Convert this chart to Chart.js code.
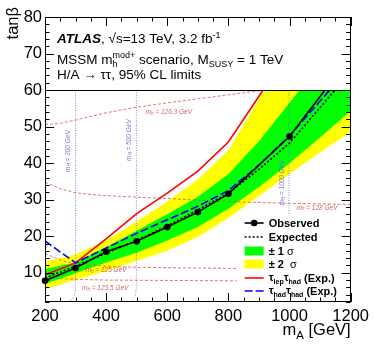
<!DOCTYPE html>
<html><head><meta charset="utf-8">
<script src="https://cdn.jsdelivr.net/npm/chart.js@4/dist/chart.umd.min.js"></script>
<style>html,body{margin:0;padding:0;background:#fff;}#wrap{width:374px;height:363px;position:relative;}</style>
</head><body><div id="wrap"><canvas id="c"></canvas></div>
<script>
// ---- data ----
const mA        = [200, 300, 400, 500, 600, 700, 800, 900, 1000, 1100, 1200];
const yellowUp  = [13.0, 15.0, 18.8, 24.0, 29.5, 35.5, 43.5, 57.5, 70.0, 82.0, 94.0];
const greenUp   = [11.0, 12.8, 17.0, 21.5, 26.0, 30.8, 37.0, 46.0, 56.5, 67.0, 78.0];
const greenLow  = [6.9, 9.9, 12.8, 15.5, 18.8, 22.5, 27.5, 33.5, 40.0, 47.0, 54.3];
const yellowLow = [5.5, 8.1, 10.5, 13.3, 16.0, 19.8, 25.0, 31.0, 37.0, 43.0, 48.5];
const expected  = [8.6, 11.8, 15.4, 18.8, 22.8, 27.2, 31.8, 38.3, 45.5, 55.2, 65.0];
const lepHad    = [9.4, 12.7, 19.3, 26.2, 31.8, 37.8, 45.8, 58.3, 71.0, 84.0, 97.0];
const hadHad    = [18.7, 12.7, 16.8, 20.8, 24.5, 28.2, 32.5, 39.5, 47.5, 57.0, 66.5];
const obsMA     = [200, 300, 400, 500, 600, 700, 800, 1000, 1200];
const observed  = [7.8, 11.3, 15.75, 18.6, 22.5, 26.6, 31.6, 47.3, 69.2];
const obsMarker = [true, true, true, true, true, true, true, true, false];

// light-Higgs mass contours (m_h)
const mh1263X = [200, 250, 300, 400, 500, 600, 700, 800, 900, 1000];
const mh1263Y = [50.5, 50.9, 51.8, 53.8, 55.3, 56.5, 57.6, 58.7, 59.8, 60.8];
const mh128X  = [200, 250, 300, 350, 400, 500, 600, 800, 1000, 1200];
const mh128Y  = [34.8, 33.0, 31.9, 31.4, 31.1, 30.7, 30.3, 29.5, 29.0, 28.7];
const mh125X  = [200, 250, 300, 400, 500, 600, 800, 1000, 1200];
const mh125Y  = [15.3, 13.5, 12.4, 11.8, 11.5, 11.4, 11.2, 11.1, 11.0];
const mh1235X = [200, 250, 300, 400, 600, 800, 1000, 1200];
const mh1235Y = [8.8, 8.4, 8.2, 8.0, 7.9, 7.8, 7.8, 7.8];
// heavy-Higgs mass contours (m_H)
const mH300X  = [300, 300, 299, 296, 288, 275];
const mH300Y  = [60, 10, 5.0, 3.6, 2.6, 2.0];
const mH500X  = [499, 499, 497, 492, 485, 478];
const mH500Y  = [60, 6.0, 4.5, 3.2, 2.4, 2.0];
const mH1000X = [998, 998];
const mH1000Y = [60, 2];

const xTickLabels = [200, 400, 600, 800, 1000, 1200];
const yTickLabels = [10, 20, 30, 40, 50, 60, 70, 80];

const pts = (xs, ys) => xs.map((v, i) => ({x: v, y: ys[i]}));

const FONT = '"Liberation Sans", Arial, Helvetica, sans-serif';
const RED_C = 'rgba(220,90,90,0.85)';
const BLUE_C = 'rgba(110,110,230,0.85)';

function rich(ctx, x, y, parts) {
  for (const [t, f, dy] of parts) {
    ctx.font = f;
    ctx.fillText(t, x, y + (dy || 0));
    x += ctx.measureText(t).width;
  }
  return x;
}

const deco = {
  id: 'deco',
  afterDatasetsDraw(chart) {
    const {ctx, chartArea: a, scales: {x, y}} = chart;
    ctx.save();
    // contour labels
    ctx.fillStyle = 'rgba(210,80,80,0.9)';
    ctx.textBaseline = 'middle';
    const mhLab = [['126.3', 605, 54.0], ['128', 1090, 27.8], ['125', 400, 10.8], ['123.5', 397, 5.9]];
    for (const [v, mx, ty] of mhLab) {
      const parts = [['m', 'italic 6.5px ' + FONT, 0], ['h', 'italic 4.5px ' + FONT, 1.5], [' = ' + v + ' GeV', 'italic 6.5px ' + FONT, 0]];
      let w = 0; for (const p of parts) { ctx.font = p[1]; w += ctx.measureText(p[0]).width; }
      rich(ctx, x.getPixelForValue(mx) - w / 2, y.getPixelForValue(ty), parts);
    }
    ctx.fillStyle = 'rgba(100,100,220,0.9)';
    const mHLab = [['300', 275, 43.3], ['500', 477, 46.3], ['1000', 977, 34.6]];
    for (const [v, mx, ty] of mHLab) {
      const parts = [['m', 'italic 6.5px ' + FONT, 0], ['H', 'italic 4.5px ' + FONT, 1.5], [' = ' + v + ' GeV', 'italic 6.5px ' + FONT, 0]];
      let w = 0; for (const p of parts) { ctx.font = p[1]; w += ctx.measureText(p[0]).width; }
      ctx.save();
      ctx.translate(x.getPixelForValue(mx), y.getPixelForValue(ty));
      ctx.rotate(-Math.PI / 2);
      rich(ctx, -w / 2, 0, parts);
      ctx.restore();
    }
    // white header box above tan(beta)=60
    const y60 = y.getPixelForValue(60);
    ctx.fillStyle = '#fff';
    ctx.fillRect(a.left, 0, a.right - a.left + 8, y60);
    ctx.strokeStyle = '#000';
    ctx.lineWidth = 1;
    ctx.beginPath(); ctx.moveTo(a.left, Math.round(y60) + 0.5); ctx.lineTo(a.right, Math.round(y60) + 0.5); ctx.stroke();

    // legend
    const lx = a.right - 114, ly = a.bottom - 88;
    ctx.fillStyle = '#fff';
    ctx.fillRect(lx, ly, a.right - lx - 1, a.bottom - ly - 1);
    const rows = [a.bottom - 79, a.bottom - 65, a.bottom - 51, a.bottom - 38, a.bottom - 24, a.bottom - 11];
    const sx0 = lx + 8, sx1 = lx + 27, tx = lx + 32;
    ctx.lineWidth = 1.6;
    ctx.strokeStyle = '#000';
    ctx.beginPath(); ctx.moveTo(sx0, rows[0]); ctx.lineTo(sx1, rows[0]); ctx.stroke();
    ctx.fillStyle = '#000';
    ctx.beginPath(); ctx.arc((sx0 + sx1) / 2, rows[0], 3.3, 0, Math.PI * 2); ctx.fill();
    ctx.setLineDash([2, 2]);
    ctx.beginPath(); ctx.moveTo(sx0, rows[1]); ctx.lineTo(sx1, rows[1]); ctx.stroke();
    ctx.setLineDash([]);
    ctx.fillStyle = '#00ff00'; ctx.fillRect(sx0, rows[2] - 4.5, sx1 - sx0, 9);
    ctx.fillStyle = '#ffff00'; ctx.fillRect(sx0, rows[3] - 4.5, sx1 - sx0, 9);
    ctx.strokeStyle = '#ff0000';
    ctx.beginPath(); ctx.moveTo(sx0, rows[4]); ctx.lineTo(sx1, rows[4]); ctx.stroke();
    ctx.strokeStyle = '#0000ff'; ctx.setLineDash([8, 3]);
    ctx.beginPath(); ctx.moveTo(sx0, rows[5]); ctx.lineTo(sx1, rows[5]); ctx.stroke();
    ctx.setLineDash([]);
    ctx.fillStyle = '#000';
    ctx.textBaseline = 'alphabetic';
    const B = 'bold 11px ' + FONT, BS = 'bold 7px ' + FONT, N = '11px ' + FONT;
    const off = 4;
    rich(ctx, tx, rows[0] + off, [['Observed', B, 0]]);
    rich(ctx, tx, rows[1] + off, [['Expected', B, 0]]);
    rich(ctx, tx, rows[2] + off, [['± 1 ', B, 0], ['σ', N, 0]]);
    rich(ctx, tx, rows[3] + off, [['± 2  ', B, 0], ['σ', N, 0]]);
    rich(ctx, tx, rows[4] + off, [['τ', B, -1], ['lep', BS, 1.5], ['τ', B, -1], ['had', BS, 1.5], [' (Exp.)', B, 0]]);
    rich(ctx, tx, rows[5] + off, [['τ', B, -1], ['had', BS, 1.5], ['τ', B, -1], ['had', BS, 1.5], [' (Exp.)', B, 0]]);

    // frame + inward ticks (ROOT style)
    ctx.strokeStyle = '#000';
    ctx.lineWidth = 1;
    ctx.strokeRect(Math.round(a.left) + 0.5, Math.round(a.top) + 0.5, Math.round(a.right - a.left) - 1, Math.round(a.bottom - a.top) - 1);
    ctx.beginPath();
    for (let v = 200; v <= 1200; v += 50) {
      const px = Math.round(x.getPixelForValue(v)) + 0.5;
      const L = (v % 200 === 0) ? 9 : 4.5;
      ctx.moveTo(px, a.bottom); ctx.lineTo(px, a.bottom - L);
      ctx.moveTo(px, a.top); ctx.lineTo(px, a.top + L);
    }
    for (let v = 2; v <= 80; v += 2) {
      const py = Math.round(y.getPixelForValue(v)) + 0.5;
      const L = (v % 10 === 0) ? 9 : 4.5;
      ctx.moveTo(a.left, py); ctx.lineTo(a.left + L, py);
      ctx.moveTo(a.right, py); ctx.lineTo(a.right - L, py);
    }
    ctx.stroke();

    // header text
    ctx.fillStyle = '#000';
    const H = '13.5px ' + FONT, HS = '9px ' + FONT;
    const hx = a.left + 12;
    rich(ctx, hx, a.top + 26, [['ATLAS', 'italic bold 13.5px ' + FONT, 0], [', \u221As=13 TeV, 3.2 fb', H, 0], ['-1', HS, -5.5]]);
    let cx = rich(ctx, hx, a.top + 47, [['MSSM m', H, 0]]);
    ctx.font = HS;
    ctx.fillText('mod+', cx, a.top + 47 - 6);
    ctx.fillText('h', cx, a.top + 47 + 3);
    cx += ctx.measureText('mod+').width;
    rich(ctx, cx, a.top + 47, [[' scenario, M', H, 0], ['SUSY', HS, 3], [' = 1 TeV', H, 0]]);
    rich(ctx, hx, a.top + 62, [['H/A \u2192 \u03C4\u03C4, 95% CL limits', H, 0]]);

    // axis titles
    const parts = [['m', '16.5px ' + FONT, 0], ['A', '11.5px ' + FONT, 4], [' [GeV]', '16.5px ' + FONT, 0]];
    let w = 0; for (const p of parts) { ctx.font = p[1]; w += ctx.measureText(p[0]).width; }
    rich(ctx, a.right - w, a.bottom + 33, parts);
    ctx.save();
    ctx.translate(18, a.top - 10);
    ctx.rotate(-Math.PI / 2);
    ctx.font = '16.5px ' + FONT;
    ctx.textAlign = 'right';
    ctx.fillText('tan\u03B2', 0, 0);
    ctx.restore();
    ctx.restore();
  }
};

const line = (label, data, color, width, dash, order, extra) => Object.assign({
  label, data, borderColor: color, borderWidth: width, borderDash: dash || [],
  pointRadius: 0, fill: false, tension: 0, order
}, extra || {});

const datasets = [
  line('yellowUp', pts(mA, yellowUp), 'rgba(0,0,0,0)', 0, null, 20, {fill: '+1', backgroundColor: '#ffff00'}),
  line('yellowLow', pts(mA, yellowLow), 'rgba(0,0,0,0)', 0, null, 19),
  line('greenUp', pts(mA, greenUp), 'rgba(0,0,0,0)', 0, null, 18, {fill: '+1', backgroundColor: '#00ff00'}),
  line('greenLow', pts(mA, greenLow), 'rgba(0,0,0,0)', 0, null, 17),
  line('mh126.3', pts(mh1263X, mh1263Y), RED_C, 1, [3, 2], 10),
  line('mh128', pts(mh128X, mh128Y), RED_C, 1, [3, 2], 10),
  line('mh125', pts(mh125X, mh125Y), RED_C, 1, [3, 2], 10),
  line('mh123.5', pts(mh1235X, mh1235Y), RED_C, 1, [3, 2], 10),
  line('mH300', pts(mH300X, mH300Y), BLUE_C, 1, [1, 1.5], 10),
  line('mH500', pts(mH500X, mH500Y), BLUE_C, 1, [1, 1.5], 10),
  line('mH1000', pts(mH1000X, mH1000Y), BLUE_C, 1, [1, 1.5], 10),
  line('lephad', pts(mA, lepHad), '#ff0000', 1.6, null, 5),
  line('hadhad', pts(mA, hadHad), '#0000ff', 1.6, [8, 3], 4),
  line('Expected', pts(mA, expected), '#000000', 1.6, [2, 2], 3),
  line('Observed', pts(obsMA, observed), '#000000', 1.6, null, 1,
       {pointRadius: obsMarker.map(m => m ? 3.3 : 0), pointBackgroundColor: '#000', pointBorderWidth: 0, clip: 6})
];

new Chart(document.getElementById('c'), {
  type: 'line',
  data: {datasets},
  options: {
    responsive: true,
    maintainAspectRatio: false,
    animation: false,
    layout: {padding: {top: 17, right: 19, left: 0, bottom: 0}},
    plugins: {legend: {display: false}, tooltip: {enabled: false}},
    scales: {
      x: {
        type: 'linear', min: 200, max: 1200,
        grid: {display: false, drawTicks: false}, border: {display: false},
        afterBuildTicks: s => { s.ticks = xTickLabels.map(v => ({value: v})); },
        afterFit: s => { s.height = 61; },
        ticks: {color: '#000', font: {family: FONT, size: 16.5}, padding: 5, maxRotation: 0, autoSkip: false,
                callback: v => String(v)}
      },
      y: {
        type: 'linear', min: 2, max: 80,
        grid: {display: false, drawTicks: false}, border: {display: false},
        afterBuildTicks: s => { s.ticks = yTickLabels.map(v => ({value: v})); },
        afterFit: s => { s.width = 45; },
        ticks: {color: '#000', font: {family: FONT, size: 16.5}, padding: 3, autoSkip: false,
                callback: v => String(v)}
      }
    }
  },
  plugins: [deco]
});
</script>
</body></html>
